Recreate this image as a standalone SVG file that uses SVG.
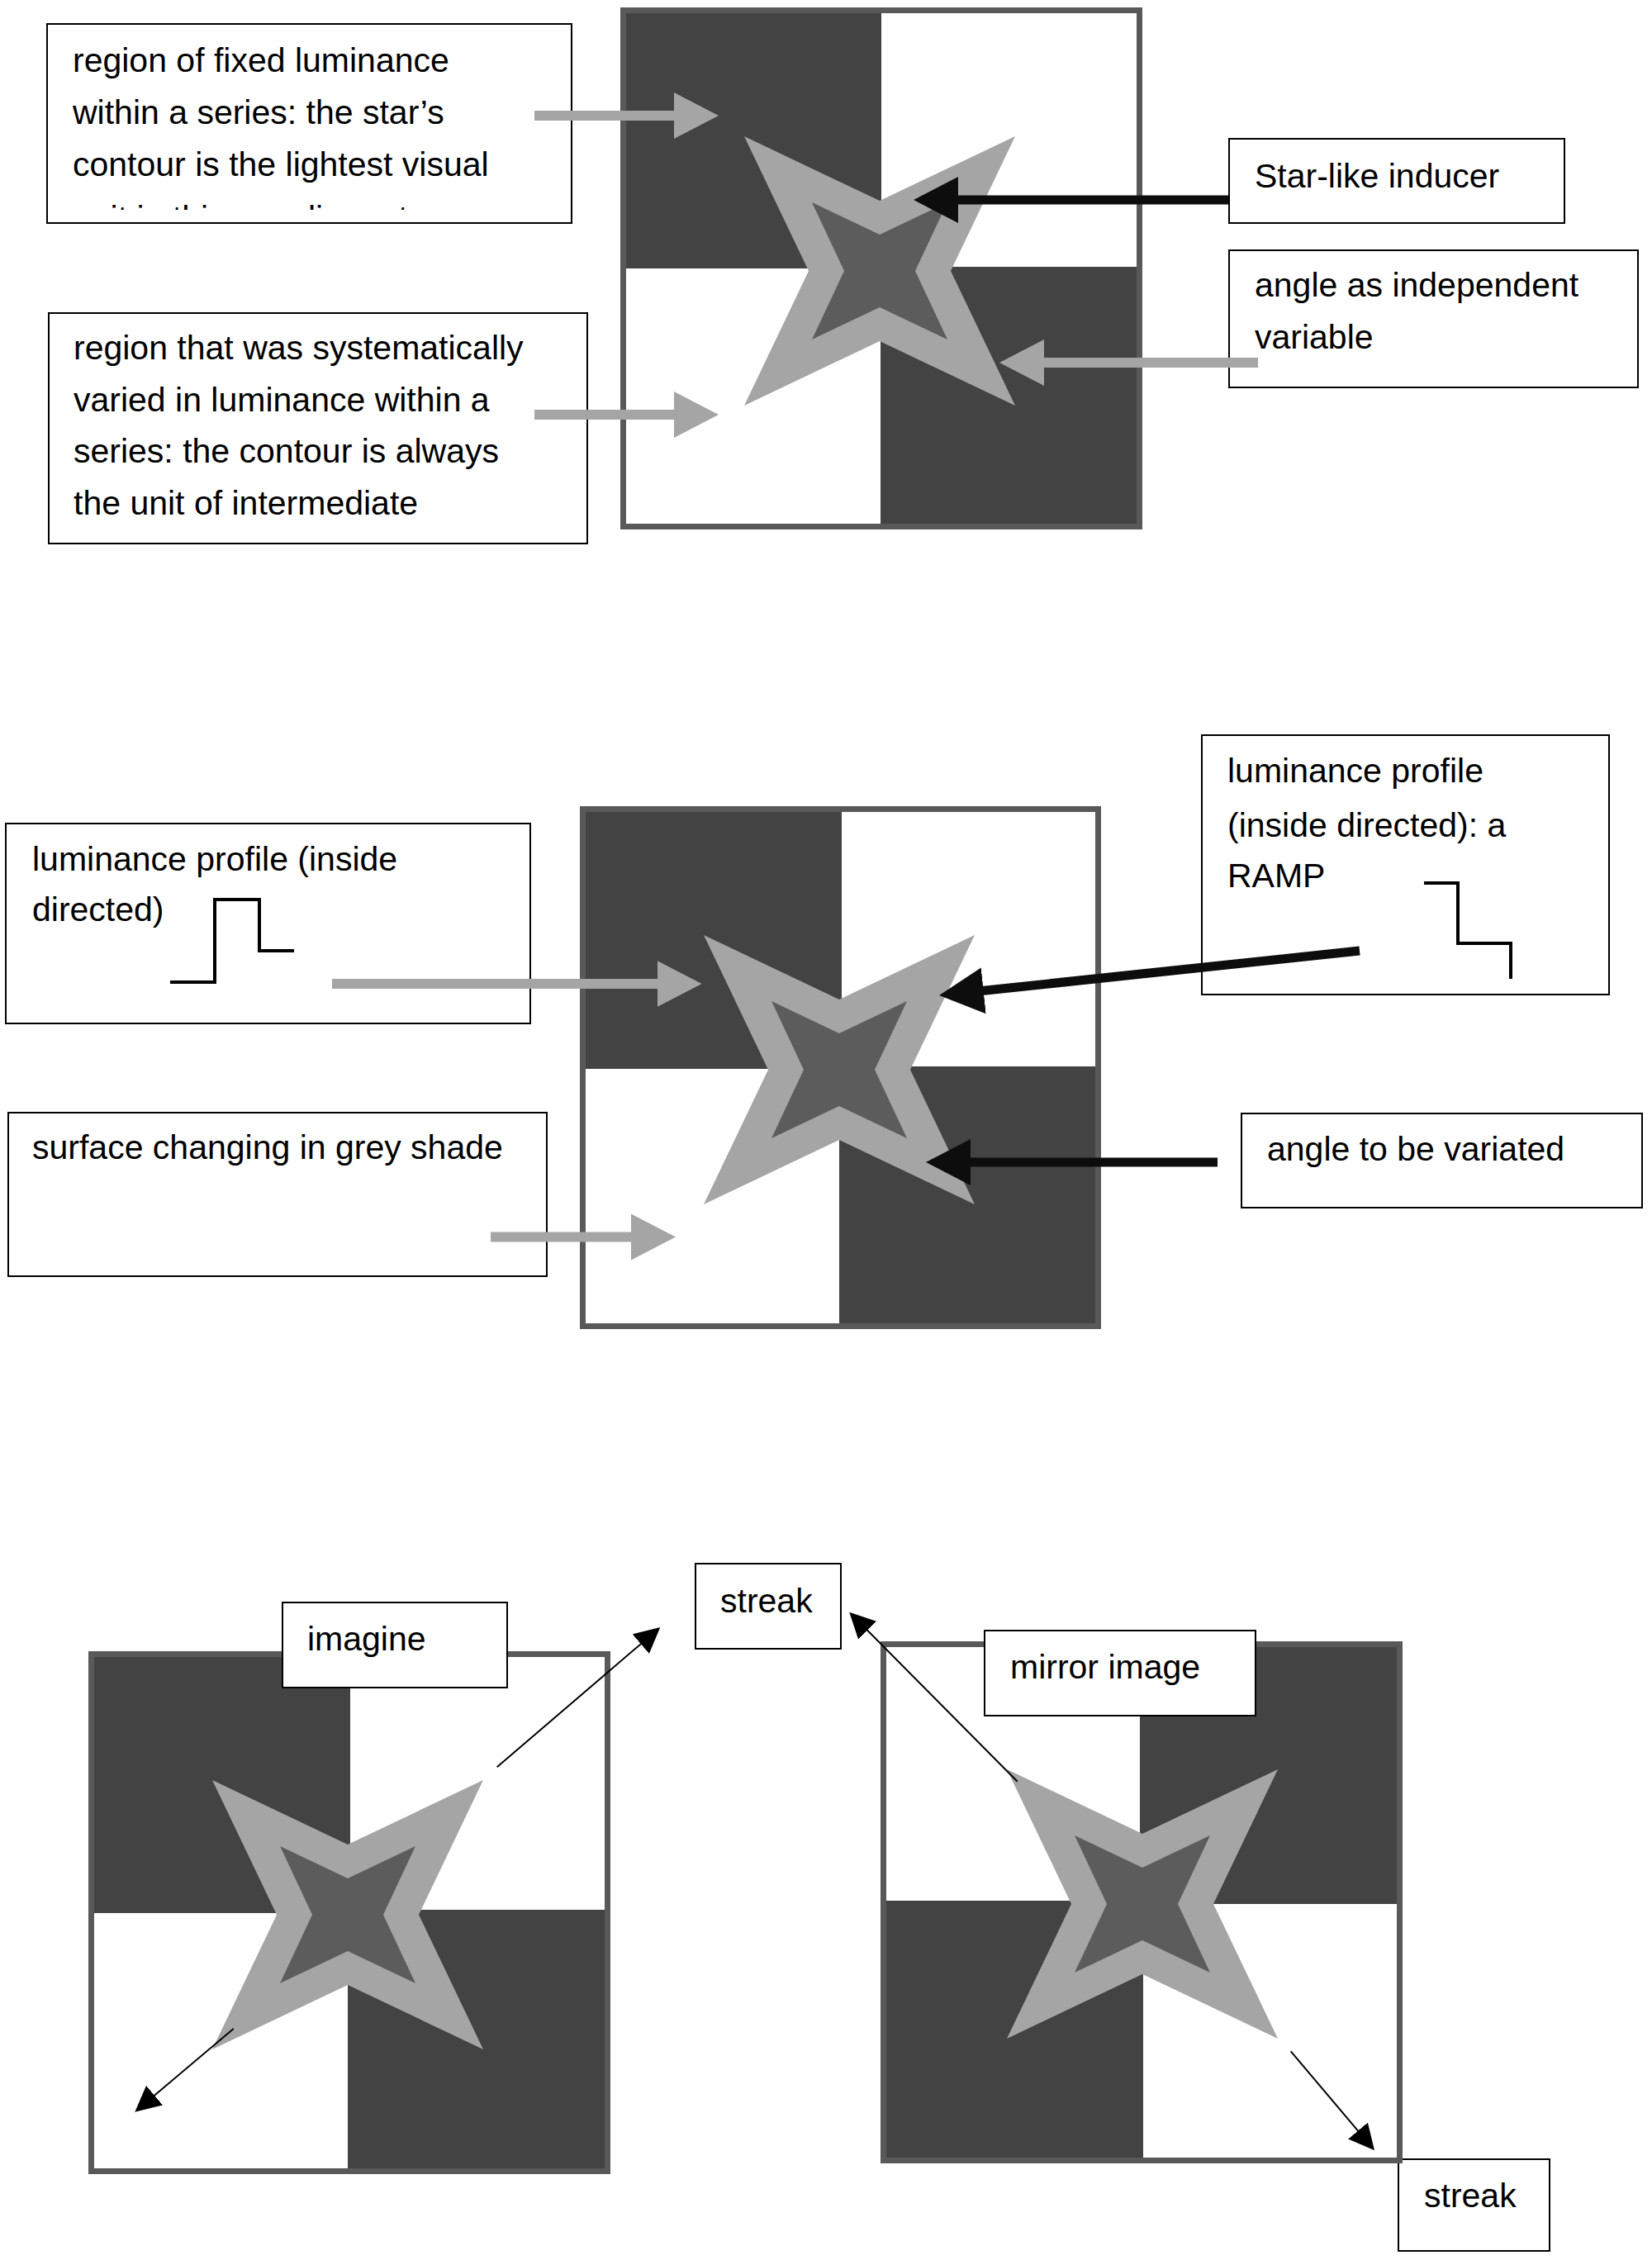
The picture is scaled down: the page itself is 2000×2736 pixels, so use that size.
<svg xmlns="http://www.w3.org/2000/svg" width="2000" height="2736" viewBox="0 0 2000 2736">
<style>
.bg{fill:#ffffff}
.frame{fill:#ffffff;stroke:#595959;stroke-width:7}
.dark{fill:#434343}
.outer{fill:#a5a5a5}
.inner{fill:#5c5c5c}
.box{fill:#ffffff;stroke:#000000;stroke-width:2}
.t{font-family:"Liberation Sans",Arial,sans-serif;font-size:41px;fill:#000000}
.ga{stroke:#a5a5a5;stroke-width:12;fill:none}
.ba{stroke:#0d0d0d;stroke-width:11;fill:none}
.ta{stroke:#000000;stroke-width:2;fill:none}
.prof{stroke:#000000;stroke-width:4;fill:none;stroke-linejoin:miter}
</style>
<defs>
<g id="star">
<polygon class="outer" points="-164,-163 0,-85 164,-163 86,0 164,163 0,85 -164,163 -86,0"/>
<polygon class="inner" points="-82,-83 0,-44 82,-83 43,0 82,83 0,44 -82,83 -43,0"/>
</g>
<marker id="hg" markerUnits="userSpaceOnUse" viewBox="0 0 54 56" markerWidth="54" markerHeight="56" refX="2" refY="28" orient="auto">
<path d="M0,0 L54,28 L0,56 Z" fill="#a5a5a5"/>
</marker>
<marker id="hb" markerUnits="userSpaceOnUse" viewBox="0 0 54 56" markerWidth="54" markerHeight="56" refX="2" refY="28" orient="auto">
<path d="M0,0 L54,28 L0,56 Z" fill="#0d0d0d"/>
</marker>
<marker id="ht" markerUnits="userSpaceOnUse" viewBox="0 0 31 31" markerWidth="31" markerHeight="31" refX="2" refY="15.5" orient="auto">
<path d="M0,0 L31,15.5 L0,31 Z" fill="#000000"/>
</marker>
<clipPath id="clip1"><rect x="60" y="30" width="630" height="224"/></clipPath>
</defs>
<rect class="bg" x="0" y="0" width="2000" height="2736"/>

<g id="panel1">
<rect class="frame" x="754.5" y="12.5" width="625" height="625"/>
<rect class="dark" x="758" y="16" width="309" height="309"/>
<rect class="dark" x="1066" y="323" width="310" height="311"/>
<use href="#star" transform="translate(1065,328)"/>
</g>

<g id="panel2">
<rect class="frame" x="705.5" y="979.5" width="624" height="626"/>
<rect class="dark" x="709" y="983" width="310" height="311"/>
<rect class="dark" x="1016" y="1291" width="310" height="311"/>
<use href="#star" transform="translate(1016,1295)"/>
</g>

<g id="node-streak-bottom">
<rect class="box" x="1693" y="2614" width="183" height="111"/>
<text class="t" x="1724" y="2672">streak</text>
</g>

<g id="panel3-left">
<rect class="frame" x="110.5" y="2002.5" width="625" height="626"/>
<rect class="dark" x="114" y="2006" width="310" height="310"/>
<rect class="dark" x="421" y="2312" width="311" height="313"/>
<use href="#star" transform="translate(421,2318)"/>
</g>

<g id="panel3-right">
<rect class="frame" x="1069.5" y="1990.5" width="625" height="625"/>
<rect class="dark" x="1380" y="1994" width="311" height="311"/>
<rect class="dark" x="1073" y="2301" width="311" height="311"/>
<use href="#star" transform="translate(1383,2305)"/>
</g>

<g id="node-fixed-luminance">
<rect class="box" x="57" y="29" width="635" height="241"/>
<text class="t" x="88" y="87">region of fixed luminance</text>
<text class="t" x="88" y="150">within a series: the star’s</text>
<text class="t" x="88" y="213">contour is the lightest visual</text>
<text class="t" x="88" y="278" clip-path="url(#clip1)">unit in this peculiar set</text>
</g>

<g id="node-varied-luminance">
<rect class="box" x="59" y="379" width="652" height="279"/>
<text class="t" x="89" y="435">region that was systematically</text>
<text class="t" x="89" y="498">varied in luminance within a</text>
<text class="t" x="89" y="560">series: the contour is always</text>
<text class="t" x="89" y="623">the unit of intermediate</text>
</g>

<g id="node-star-like">
<rect class="box" x="1488" y="168" width="406" height="102"/>
<text class="t" x="1519" y="227">Star-like inducer</text>
</g>

<g id="node-angle-independent">
<rect class="box" x="1488" y="303" width="495" height="166"/>
<text class="t" x="1519" y="359">angle as independent</text>
<text class="t" x="1519" y="422">variable</text>
</g>

<g id="node-profile-inside">
<rect class="box" x="7" y="997" width="635" height="242"/>
<text class="t" x="39" y="1054">luminance profile (inside</text>
<text class="t" x="39" y="1115">directed)</text>
<polyline class="prof" points="206,1189 260,1189 260,1089 314,1089 314,1151 356,1151"/>
</g>

<g id="node-surface">
<rect class="box" x="10" y="1347" width="652" height="198"/>
<text class="t" x="39" y="1403">surface changing in grey shade</text>
</g>

<g id="node-ramp">
<rect class="box" x="1455" y="890" width="493" height="314"/>
<text class="t" x="1486" y="947">luminance profile</text>
<text class="t" x="1486" y="1013">(inside directed): a</text>
<text class="t" x="1486" y="1074">RAMP</text>
<polyline class="prof" points="1724,1069 1765,1069 1765,1142 1829,1142 1829,1185"/>
</g>

<g id="node-angle-variated">
<rect class="box" x="1503" y="1348" width="485" height="114"/>
<text class="t" x="1534" y="1405">angle to be variated</text>
</g>

<g id="node-imagine">
<rect class="box" x="342" y="1940" width="272" height="103"/>
<text class="t" x="372" y="1998">imagine</text>
</g>

<g id="node-streak-top">
<rect class="box" x="842" y="1893" width="176" height="103"/>
<text class="t" x="872" y="1952">streak</text>
</g>

<g id="node-mirror">
<rect class="box" x="1192" y="1974" width="328" height="103"/>
<text class="t" x="1223" y="2032">mirror image</text>
</g>

<g id="connectors">
<line class="ga" x1="647" y1="140" x2="818" y2="140" marker-end="url(#hg)"/>
<line class="ga" x1="647" y1="502" x2="818" y2="502" marker-end="url(#hg)"/>
<line class="ga" x1="1523" y1="439" x2="1262" y2="439" marker-end="url(#hg)"/>
<line class="ba" x1="1487" y1="242" x2="1158" y2="242" marker-end="url(#hb)"/>
<line class="ga" x1="402" y1="1191" x2="797.6" y2="1191" marker-end="url(#hg)"/>
<line class="ga" x1="594" y1="1497.5" x2="766" y2="1497.5" marker-end="url(#hg)"/>
<line class="ba" x1="1646" y1="1151" x2="1188.7" y2="1199.5" marker-end="url(#hb)"/>
<line class="ba" x1="1474" y1="1407" x2="1173" y2="1407" marker-end="url(#hb)"/>
<line class="ta" x1="601.7" y1="2139.3" x2="777.3" y2="1988.9" marker-end="url(#ht)"/>
<line class="ta" x1="282.7" y1="2456" x2="185.5" y2="2538" marker-end="url(#ht)"/>
<line class="ta" x1="1231.7" y1="2156.7" x2="1048.7" y2="1972.3" marker-end="url(#ht)"/>
<line class="ta" x1="1562.7" y1="2483.3" x2="1645.3" y2="2581.1" marker-end="url(#ht)"/>
</g>
</svg>
